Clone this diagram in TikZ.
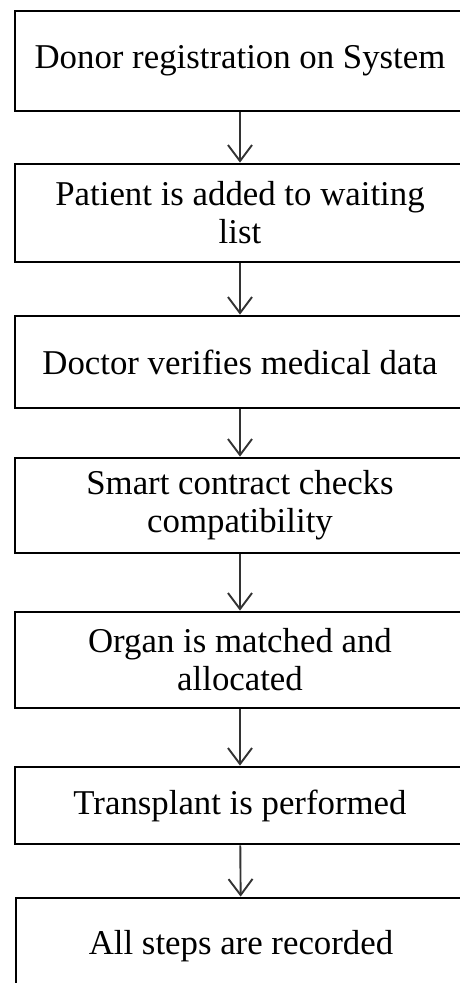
\documentclass[tikz,border=0pt]{standalone}
\usepackage{fontspec}
\setmainfont{Liberation Serif}
\usetikzlibrary{arrows.meta,positioning}

\begin{document}
\begin{tikzpicture}[x=1pt,y=1pt,
  stepbox/.style={draw=black,line width=2.8pt,minimum width=450pt,inner sep=0pt,align=center,font=\fontsize{34.8}{38}\selectfont},
  flow/.style={draw=black!80,line width=1.9pt,-{Straight Barb[length=16pt,width=24pt,line width=1.9pt]}}]
% canvas
\useasboundingbox (0,0) rectangle (460,-983);
\clip (0,0) rectangle (460,-983);
\fill[white] (0,0) rectangle (460,-983);
% steps
\node[stepbox,minimum height=100pt] (donor) at (240,-61) {Donor registration on System};
\node[stepbox,minimum height=98pt] (patient) at (240,-213) {Patient is added to waiting\\list};
\node[stepbox,minimum height=92pt] (doctor) at (240,-362) {Doctor verifies medical data};
\node[stepbox,minimum height=95pt] (contract) at (240,-505.5) {Smart contract checks\\compatibility};
\node[stepbox,minimum height=96pt] (organ) at (240,-660) {Organ is matched and\\allocated};
\node[stepbox,minimum height=77pt] (transplant) at (240,-805.5) {Transplant is performed};
\node[stepbox,minimum height=96pt] (record) at (241,-946) {All steps are recorded};
% arrows
\draw[flow] (donor) -- (patient);
\draw[flow] (patient) -- (doctor);
\draw[flow] (doctor) -- (contract);
\draw[flow] (contract) -- (organ);
\draw[flow] (organ) -- (transplant);
\draw[flow] (transplant) -- (record);
\end{tikzpicture}
\end{document}
